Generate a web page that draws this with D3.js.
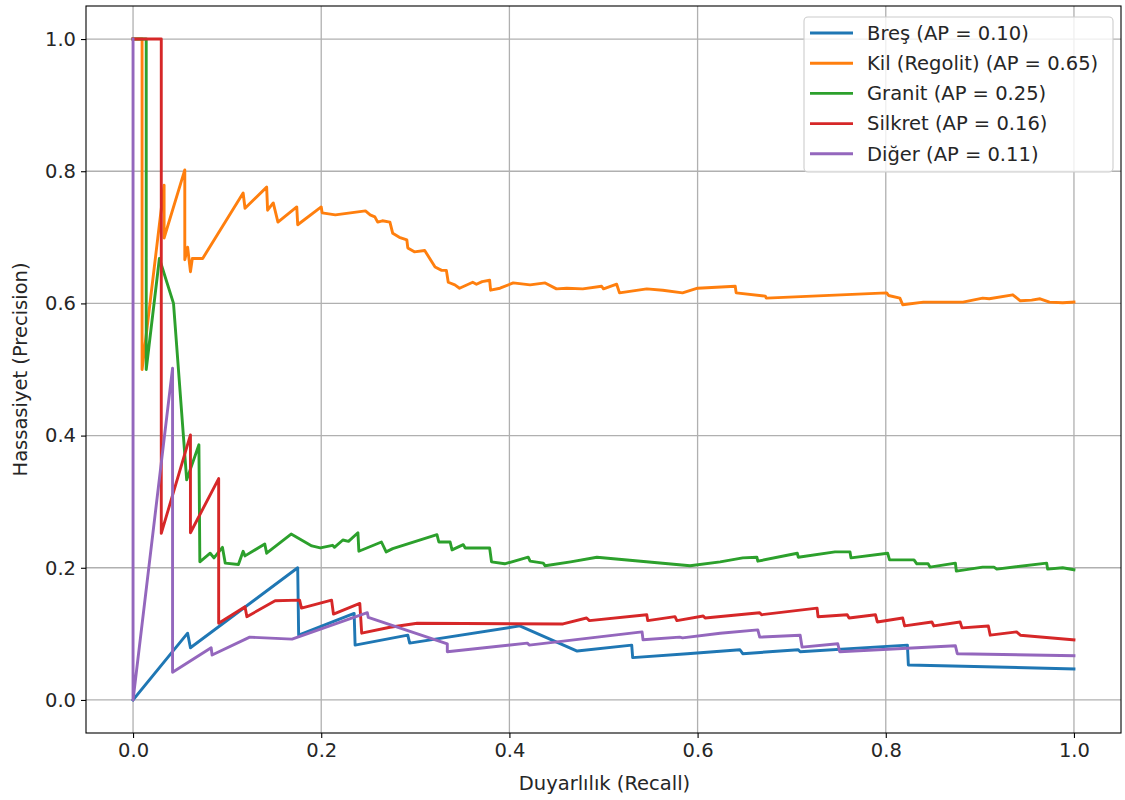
<!DOCTYPE html>
<html lang="tr">
<head>
<meta charset="utf-8">
<title>Precision-Recall</title>
<script src="https://d3js.org/d3.v7.min.js"></script>
<style>
  body { margin: 0; background: #fff; }
  svg text { font-family: "DejaVu Sans", sans-serif; fill: #262626; }
</style>
</head>
<body>
<svg id="chart" width="1125" height="800"></svg>
<script>
// curves as [recall, precision]
var bres = [[0,0],[0.058,0.101],[0.061,0.079],[0.175,0.2],[0.176,0.098],[0.235,0.131],[0.236,0.083],
  [0.292,0.098],[0.294,0.086],[0.411,0.112],[0.472,0.074],[0.53,0.083],[0.531,0.064],[0.589,0.07],
  [0.645,0.076],[0.648,0.07],[0.707,0.076],[0.709,0.073],[0.823,0.083],[0.824,0.053],[1.0,0.047]];

var kil = [[0,1],[0.0096,1],[0.0096,0.5],[0.033,0.779],[0.033,0.699],[0.055,0.802],[0.055,0.666],
  [0.058,0.685],[0.061,0.648],[0.063,0.668],[0.074,0.668],[0.117,0.767],[0.119,0.744],[0.142,0.776],
  [0.143,0.741],[0.149,0.752],[0.154,0.723],[0.174,0.746],[0.175,0.719],[0.2,0.746],[0.201,0.737],
  [0.215,0.734],[0.247,0.74],[0.252,0.734],[0.257,0.731],[0.26,0.723],[0.265,0.725],[0.273,0.723],
  [0.276,0.706],[0.283,0.7],[0.291,0.696],[0.292,0.684],[0.299,0.678],[0.31,0.68],[0.321,0.655],
  [0.328,0.65],[0.333,0.65],[0.335,0.632],[0.342,0.628],[0.347,0.623],[0.361,0.632],[0.365,0.629],
  [0.371,0.633],[0.379,0.635],[0.38,0.62],[0.39,0.623],[0.404,0.631],[0.422,0.628],[0.438,0.631],
  [0.45,0.622],[0.461,0.623],[0.478,0.622],[0.498,0.626],[0.5,0.622],[0.514,0.629],[0.517,0.616],
  [0.546,0.622],[0.563,0.62],[0.584,0.616],[0.6,0.623],[0.64,0.626],[0.641,0.616],[0.672,0.611],
  [0.673,0.608],[0.801,0.616],[0.803,0.612],[0.815,0.608],[0.818,0.598],[0.84,0.602],[0.882,0.602],
  [0.903,0.608],[0.91,0.607],[0.935,0.613],[0.943,0.604],[0.955,0.605],[0.964,0.607],[0.974,0.602],
  [0.988,0.601],[1.0,0.602]];

var granit = [[0,1],[0.014,1],[0.014,0.5],[0.028,0.668],[0.043,0.6],[0.057,0.333],[0.07,0.386],
  [0.071,0.209],[0.082,0.222],[0.086,0.215],[0.095,0.231],[0.098,0.207],[0.112,0.205],[0.117,0.225],
  [0.119,0.218],[0.14,0.236],[0.142,0.222],[0.168,0.251],[0.19,0.233],[0.199,0.23],[0.212,0.234],
  [0.214,0.231],[0.223,0.242],[0.229,0.24],[0.239,0.253],[0.24,0.225],[0.264,0.239],[0.269,0.224],
  [0.276,0.229],[0.323,0.25],[0.325,0.239],[0.337,0.239],[0.339,0.227],[0.351,0.235],[0.353,0.23],
  [0.379,0.23],[0.381,0.209],[0.395,0.206],[0.42,0.216],[0.422,0.21],[0.436,0.207],[0.438,0.203],
  [0.465,0.209],[0.493,0.216],[0.592,0.203],[0.624,0.209],[0.648,0.215],[0.663,0.216],[0.664,0.21],
  [0.706,0.222],[0.707,0.216],[0.746,0.224],[0.762,0.224],[0.763,0.215],[0.802,0.222],[0.804,0.212],
  [0.83,0.212],[0.833,0.206],[0.845,0.206],[0.847,0.201],[0.874,0.207],[0.875,0.195],[0.903,0.201],
  [0.915,0.201],[0.918,0.198],[0.971,0.207],[0.972,0.198],[0.988,0.2],[1.0,0.197]];

var silkret = [[0,1],[0.03,1],[0.03,0.252],[0.061,0.401],[0.061,0.253],[0.091,0.335],[0.091,0.116],
  [0.119,0.141],[0.121,0.126],[0.151,0.15],[0.177,0.151],[0.179,0.139],[0.211,0.151],[0.213,0.13],
  [0.241,0.146],[0.243,0.101],[0.273,0.11],[0.302,0.116],[0.457,0.115],[0.482,0.124],[0.485,0.12],
  [0.546,0.129],[0.547,0.12],[0.576,0.126],[0.578,0.12],[0.606,0.127],[0.608,0.124],[0.666,0.132],
  [0.668,0.129],[0.727,0.139],[0.728,0.126],[0.759,0.129],[0.761,0.124],[0.789,0.129],[0.791,0.118],
  [0.818,0.124],[0.82,0.112],[0.849,0.118],[0.851,0.112],[0.879,0.118],[0.881,0.109],[0.909,0.112],
  [0.911,0.098],[0.939,0.103],[0.943,0.098],[1.0,0.091]];

var diger = [[0,1],[0,0],[0.042,0.502],[0.042,0.042],[0.083,0.079],[0.084,0.068],[0.124,0.095],
  [0.169,0.092],[0.249,0.132],[0.25,0.125],[0.334,0.085],[0.334,0.073],[0.419,0.086],[0.421,0.083],
  [0.541,0.103],[0.542,0.091],[0.581,0.095],[0.584,0.094],[0.624,0.101],[0.664,0.106],[0.666,0.095],
  [0.709,0.098],[0.711,0.08],[0.749,0.085],[0.751,0.073],[0.874,0.082],[0.876,0.07],[1.0,0.067]];

var names = ["Breş", "Kil (Regolit)", "Granit", "Silkret", "Diğer"];
var apValues = [0.10, 0.65, 0.25, 0.16, 0.11];
var colors = ["#1f77b4", "#ff7f0e", "#2ca02c", "#d62728", "#9467bd"];
var curves = [bres, kil, granit, silkret, diger];
var ticks = [0, 0.2, 0.4, 0.6, 0.8, 1.0];

var svg = d3.select("#chart");
// plot box edges (note: "top" is reserved on window, so use p-prefixed names)
var pLeft = 86, pRight = 1121, pTop = 6, pBottom = 733;

var x = d3.scaleLinear().domain([-0.05, 1.05]).range([pLeft, pRight]);
var y = d3.scaleLinear().domain([-0.05, 1.05]).range([pBottom, pTop]);

// grid
svg.append("g").selectAll("line").data(ticks).join("line")
  .attr("x1", d => x(d)).attr("x2", d => x(d))
  .attr("y1", pTop).attr("y2", pBottom)
  .attr("stroke", "#b0b0b0").attr("stroke-width", 1.3);
svg.append("g").selectAll("line").data(ticks).join("line")
  .attr("y1", d => y(d)).attr("y2", d => y(d))
  .attr("x1", pLeft).attr("x2", pRight)
  .attr("stroke", "#b0b0b0").attr("stroke-width", 1.3);

// curves
var line = d3.line().x(d => x(d[0])).y(d => y(d[1]));
svg.append("g").selectAll("path").data(curves).join("path")
  .attr("d", line)
  .attr("fill", "none")
  .attr("stroke", (d, i) => colors[i])
  .attr("stroke-width", 2.9)
  .attr("stroke-linejoin", "round")
  .attr("stroke-linecap", "square");

// frame
svg.append("rect")
  .attr("x", pLeft).attr("y", pTop)
  .attr("width", pRight - pLeft).attr("height", pBottom - pTop)
  .attr("fill", "none").attr("stroke", "#000").attr("stroke-width", 1.1);

// axes
var fmt = d3.format(".1f");
var xAxis = svg.append("g").attr("transform", "translate(0," + pBottom + ")")
  .call(d3.axisBottom(x).tickValues(ticks).tickFormat(fmt).tickSize(5).tickPadding(5));
var yAxis = svg.append("g").attr("transform", "translate(" + pLeft + ",0)")
  .call(d3.axisLeft(y).tickValues(ticks).tickFormat(fmt).tickSize(5).tickPadding(5));
[xAxis, yAxis].forEach(function (g) {
  g.select(".domain").remove();
  g.selectAll(".tick line").attr("stroke", "#000").attr("stroke-width", 1.1);
  g.selectAll(".tick text").style("font-size", "19.5px").attr("fill", "#262626");
});

svg.append("text")
  .attr("x", (pLeft + pRight) / 2 + 1).attr("y", 790)
  .attr("text-anchor", "middle")
  .style("font-size", "19.5px")
  .text("Duyarlılık (Recall)");

svg.append("text")
  .attr("transform", "translate(27," + ((pTop + pBottom) / 2) + ") rotate(-90)")
  .attr("text-anchor", "middle")
  .style("font-size", "19.5px")
  .text("Hassasiyet (Precision)");

// legend
var legend = svg.append("g");
legend.append("rect")
  .attr("x", 804).attr("y", 17).attr("width", 309).attr("height", 155)
  .attr("rx", 4).attr("fill", "#fff").attr("fill-opacity", 0.8)
  .attr("stroke", "#cccccc").attr("stroke-width", 1.1);
var rows = legend.selectAll("g.row").data(names).join("g")
  .attr("class", "row")
  .attr("transform", (d, i) => "translate(0," + (33 + i * 30.2) + ")");
rows.append("line")
  .attr("x1", 810).attr("x2", 853).attr("y1", 0).attr("y2", 0)
  .attr("stroke", (d, i) => colors[i]).attr("stroke-width", 2.9);
rows.append("text")
  .attr("x", 867).attr("y", 0).attr("dy", "0.35em")
  .style("font-size", "19.5px")
  .text((d, i) => d + " (AP = " + apValues[i].toFixed(2) + ")");
</script>
</body>
</html>
